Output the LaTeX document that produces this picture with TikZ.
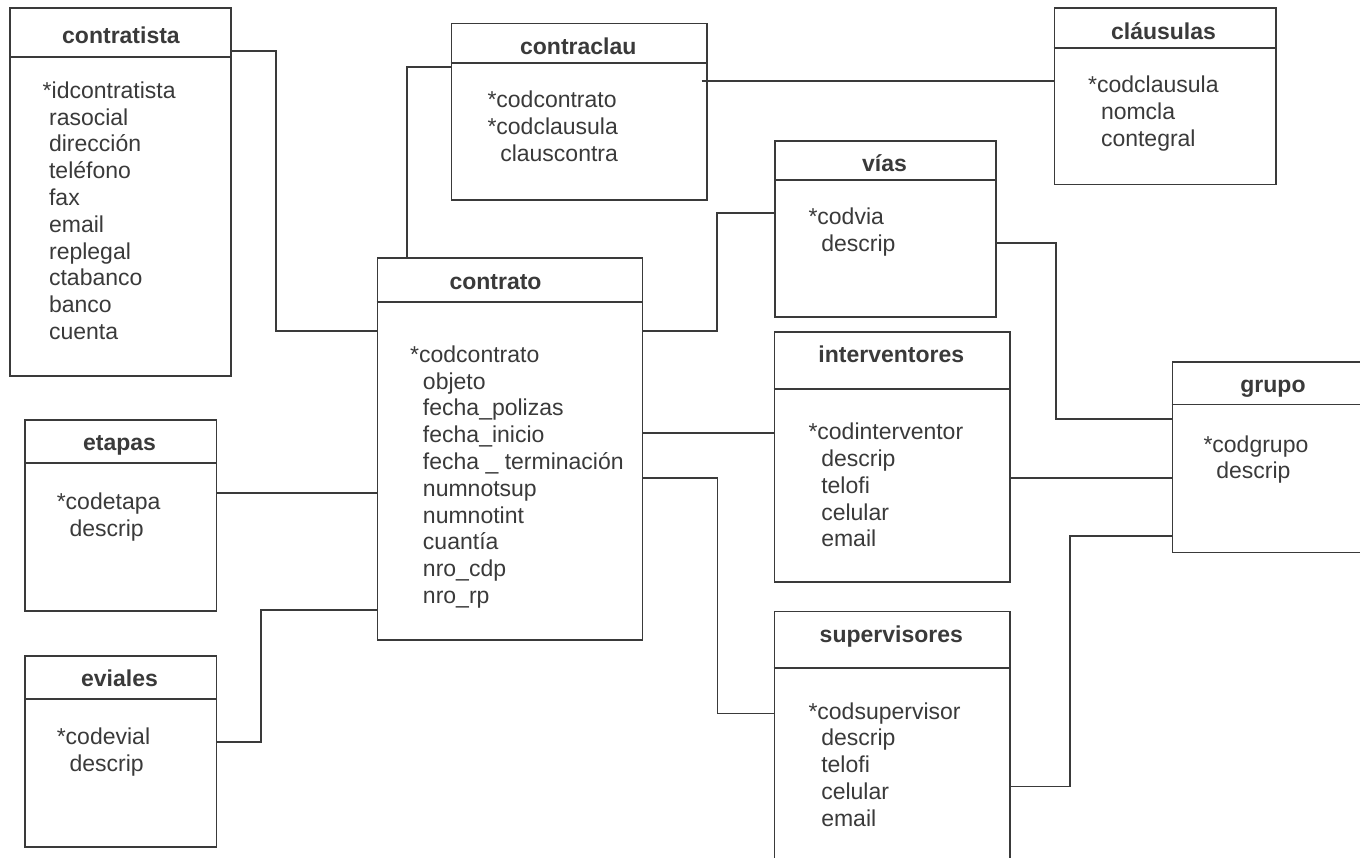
\documentclass[tikz,border=0pt]{standalone}
\usepackage{fontspec}
\setmainfont{Liberation Sans}
\definecolor{ink}{RGB}{58,58,58}
\newcommand\ind{\hspace*{0.278em}}
\newcommand\attrlist[4]{\foreach \t [count=\i] in {#4} {\node[attr] (#1-\i) at (#2, {#3+(\i-1)*26.8}) {\t};}}
\tikzset{
  entity/.style={draw=ink, line width=1.7pt, rectangle, inner sep=0pt, anchor=north west},
  conn/.style={draw=ink, line width=1.7pt},
  title/.style={font=\fontsize{23}{26.8}\selectfont\bfseries, text=ink, anchor=base, inner sep=0pt},
  attr/.style={font=\fontsize{23}{26.8}\selectfont, text=ink, anchor=base west, inner sep=0pt}
}
\begin{document}
\begin{tikzpicture}[x=1pt,y=-1pt]
\useasboundingbox[fill=white] (0,0) rectangle (1360,858);
% entities
\node[entity, minimum width=221pt, minimum height=367.7pt] (contratista) at (9,7.3) {};
\node[entity, minimum width=255.3pt, minimum height=176.3pt] (contraclau) at (450.7,22.7) {};
\node[entity, minimum width=221.4pt, minimum height=176.4pt] (clausulas) at (1053.6,7.3) {};
\node[entity, minimum width=221pt, minimum height=176pt] (vias) at (774,140) {};
\node[entity, minimum width=265pt, minimum height=382pt] (contrato) at (376.7,257.3) {};
\node[entity, minimum width=235.4pt, minimum height=250pt] (interventores) at (773.6,331) {};
\node[entity, minimum width=235.4pt, minimum height=270pt] (supervisores) at (773.6,610.7) {};
\node[entity, minimum width=209pt, minimum height=190.6pt] (grupo) at (1171.5,361) {};
\node[entity, minimum width=191.7pt, minimum height=190.7pt] (etapas) at (24,419.3) {};
\node[entity, minimum width=191.7pt, minimum height=190.7pt] (eviales) at (24,655.3) {};
% header lines
\foreach \n/\h in {contratista/50, contraclau/40.6, clausulas/41, vias/40.3, contrato/44.4, interventores/58, supervisores/57.3, grupo/43.5, etapas/44, eviales/43.7}
  \draw[conn] ([yshift=-\h]\n.north west) -- ([yshift=-\h]\n.north east);
% titles
\node[title] (t-contratista) at (121,43.3) {contratista};
\node[title] (t-contraclau) at (578.3,54.7) {contraclau};
\node[title] (t-clausulas) at (1163.5,39.5) {cláusulas};
\node[title] (t-vias) at (884.5,172) {vías};
\node[title] (t-contrato) at (495.5,289.5) {contrato};
\node[title] (t-interventores) at (891.3,363) {interventores};
\node[title] (t-supervisores) at (891.3,642.5) {supervisores};
\node[title] (t-grupo) at (1273,392) {grupo};
\node[title] (t-etapas) at (119.5,450.5) {etapas};
\node[title] (t-eviales) at (119.5,686) {eviales};
% attributes
\attrlist{a-contratista}{42.5}{98.3}{*idcontratista, \ind rasocial, \ind dirección, \ind teléfono, \ind fax, \ind email, \ind replegal, \ind ctabanco, \ind banco, \ind cuenta}
\attrlist{a-contraclau}{487.3}{108}{*codcontrato, *codclausula, \ind\ind clauscontra}
\attrlist{a-clausulas}{1088}{93}{*codclausula, \ind\ind nomcla, \ind\ind contegral}
\attrlist{a-vias}{808.3}{225}{*codvia, \ind\ind descrip}
\attrlist{a-contrato}{410}{362.3}{*codcontrato, \ind\ind objeto, \ind\ind fecha\_polizas, \ind\ind fecha\_inicio, \ind\ind fecha \_ terminación, \ind\ind numnotsup, \ind\ind numnotint, \ind\ind cuantía, \ind\ind nro\_cdp, \ind\ind nro\_rp}
\attrlist{a-interventores}{808.3}{439.7}{*codinterventor, \ind\ind descrip, \ind\ind telofi, \ind\ind celular, \ind\ind email}
\attrlist{a-supervisores}{808.3}{719}{*codsupervisor, \ind\ind descrip, \ind\ind telofi, \ind\ind celular, \ind\ind email}
\node[attr] (a-grupo-1) at (1203.3,452) {*codgrupo};
\node[attr] (a-grupo-2) at (1203.3,478) {\ind\ind descrip};
\attrlist{a-etapas}{56.6}{509.7}{*codetapa, \ind\ind descrip}
\attrlist{a-eviales}{56.6}{744.7}{*codevial, \ind\ind descrip}
% connectors
\draw[conn] ([yshift=-43.7]contratista.north east) -- ++(44.3,0) |- ([yshift=-73.7]contrato.north west);
\draw[conn] ([yshift=-44]contraclau.north west) -| ([xshift=30]contrato.north west);
\draw[conn] ([xshift=-6,yshift=-58]contraclau.north east) -- ([yshift=-73.4]clausulas.north west);
\draw[conn] ([yshift=-73.7]contrato.north east) -- ++(73.6,0) |- ([yshift=-73.3]vias.north west);
\draw[conn] ([yshift=-176]contrato.north east) -- ([yshift=-102.3]interventores.north west);
\draw[conn] ([yshift=-221]contrato.north east) -- ++(74,0) |- ([yshift=-102.8]supervisores.north west);
\draw[conn] ([yshift=-73.4]etapas.north east) -- ([yshift=-235.4]contrato.north west);
\draw[conn] ([yshift=-87]eviales.north east) -- ++(43.6,0) |- ([yshift=-352.7]contrato.north west);
\draw[conn] ([yshift=-102.7]vias.north east) -- ++(59,0) |- ([yshift=-58]grupo.north west);
\draw[conn] ([yshift=-147]interventores.north east) -- ([yshift=-117]grupo.north west);
\draw[conn] ([yshift=-175.8]supervisores.north east) -- ++(59,0) |- ([yshift=-175]grupo.north west);
\end{tikzpicture}
\end{document}
